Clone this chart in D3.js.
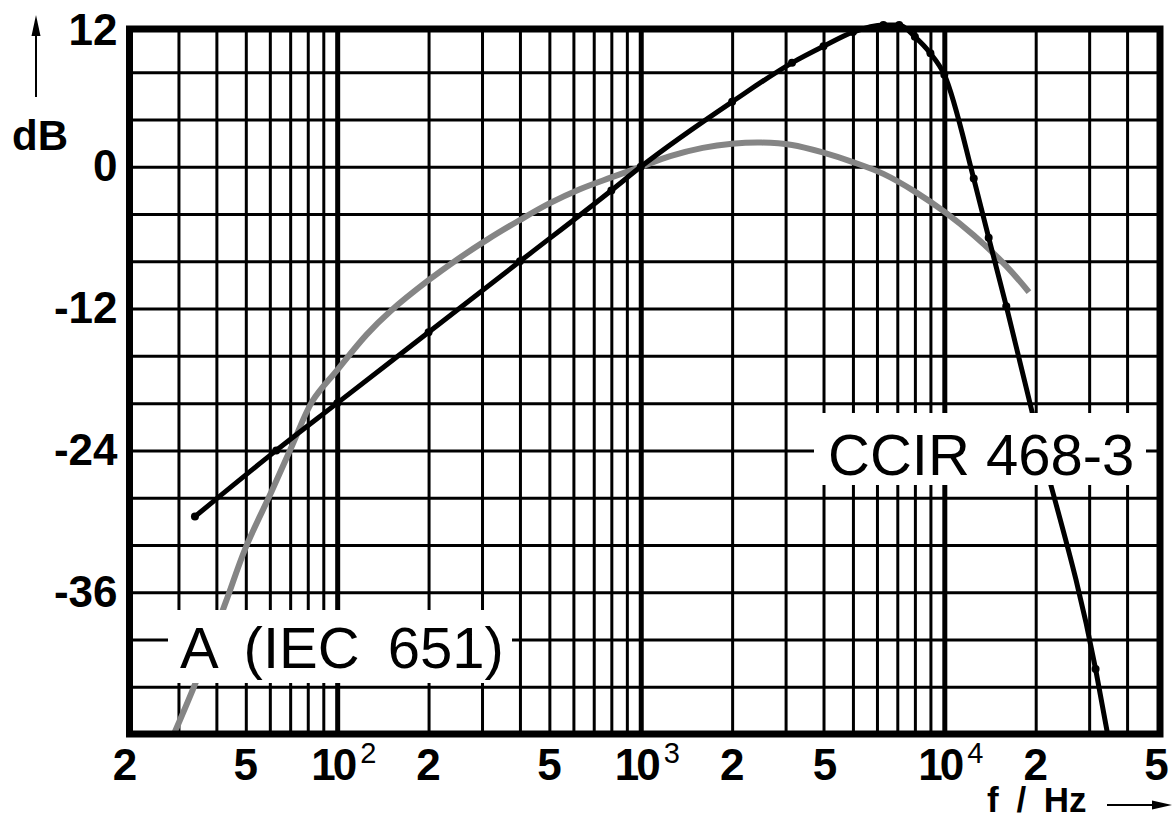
<!DOCTYPE html>
<html>
<head>
<meta charset="utf-8">
<script src="https://cdn.jsdelivr.net/npm/d3@7"></script>
<style>
body { margin: 0; background: #fff; }
svg text { font-family: "Liberation Sans", Arial, sans-serif; fill: #000; }
</style>
</head>
<body>
<script>
var width = 1176;
var height = 820;

// plot area
var plot = {left: 125, right: 1156.5, top: 25, bottom: 734};

// A weighting (IEC 651)
var freqA = [29, 35, 43, 50, 61, 71, 83, 100, 125, 150, 200, 250, 315, 400, 500, 630, 800, 1000,
  1250, 1600, 2000, 2500, 3150, 4000, 5000, 6300, 8000, 10000, 12500, 16000, 19000];
var dbA = [-48, -43.0, -36.8, -32.2, -27.4, -23.6, -19.8, -17.2, -14.2, -12.2, -9.6, -7.8, -6.1, -4.5, -3.1, -1.9, -0.9, 0,
  0.9, 1.6, 1.95, 2.05, 1.85, 1.2, 0.4, -0.6, -2.1, -3.8, -5.8, -8.4, -10.6];

// CCIR 468-3
var freqC = [34, 63, 100, 200, 400, 800, 1000, 2000, 3150, 4000, 5000, 6300, 7100, 8000, 9000, 10000,
  12500, 14000, 16000, 20000, 31500, 34500];
var dbC = [-29.6, -24.0, -20.0, -14.0, -8.0, -2.0, 0, 5.5, 8.8, 10.2, 11.4, 12.0, 12.0, 11.0, 9.6, 7.8,
  -1.0, -6.0, -11.8, -22.0, -42.5, -48];

var xTickVals = [20, 50, 100, 200, 500, 1000, 2000, 5000, 10000, 20000, 50000];
var xTickText = ["2", "5", "10", "2", "5", "10", "2", "5", "10", "2", "5"];
var xTickSup = ["", "", "2", "", "", "3", "", "", "4", "", ""];
var yTickVals = [12, 0, -12, -24, -36];
var yGridVals = [8, 4, 0, -4, -8, -12, -16, -20, -24, -28, -32, -36, -40, -44];

var svg = d3.select("body")
  .append("svg")
  .attr("width", width)
  .attr("height", height);

var xScale = d3.scaleLog()
  .domain([20, 50000])
  .range([plot.left, plot.right]);

var yScale = d3.scaleLinear()
  .domain([-48, 12])
  .range([plot.bottom, plot.top]);

// vertical grid: every 1..9 x decade
var gridF = [];
[10, 100, 1000, 10000].forEach(function(dec) {
  for (var k = 1; k <= 9; k++) {
    var v = k * dec;
    if (v > 20 && v < 50000) gridF.push(v);
  }
});

var fx = 129.5, fy = 29, fr = 1160, fb = 734;

var vgrid = svg.append("g")
  .attr("transform", "translate(0," + fb + ")")
  .call(d3.axisBottom(xScale).tickValues(gridF).tickSize(-(fb - fy)).tickFormat(""));
vgrid.select(".domain").remove();
vgrid.selectAll(".tick line")
  .attr("stroke", "#000")
  .attr("stroke-width", function(d) { return (d === 100 || d === 1000 || d === 10000) ? 5 : 3; });

var hgrid = svg.append("g")
  .attr("transform", "translate(" + fx + ",0)")
  .call(d3.axisLeft(yScale).tickValues(yGridVals).tickSize(-(fr - fx)).tickFormat(""));
hgrid.select(".domain").remove();
hgrid.selectAll(".tick line").attr("stroke", "#000").attr("stroke-width", 3);

// curves
var lineA = d3.line()
  .x(function(d) { return xScale(d[0]); })
  .y(function(d) { return yScale(d[1]); })
  .curve(d3.curveCatmullRom.alpha(0.5));

var lineC = d3.line()
  .x(function(d) { return xScale(d[0]); })
  .y(function(d) { return yScale(d[1]); })
  .curve(d3.curveMonotoneX);

svg.append("path")
  .datum(freqA.map(function(f, i) { return [f, dbA[i]]; }))
  .attr("d", lineA)
  .attr("fill", "none")
  .attr("stroke", "#858585")
  .attr("stroke-width", 6);

var ccir = freqC.map(function(f, i) { return [f, dbC[i]]; });
svg.append("path")
  .datum(ccir)
  .attr("d", lineC)
  .attr("fill", "none")
  .attr("stroke", "#000")
  .attr("stroke-width", 5);

svg.selectAll("circle.pt")
  .data(ccir.slice(0, ccir.length - 1))
  .enter()
  .append("circle")
  .attr("class", "pt")
  .attr("cx", function(d) { return xScale(d[0]); })
  .attr("cy", function(d) { return yScale(d[1]); })
  .attr("r", 4)
  .attr("fill", "#000");

// curve labels on white boxes
svg.append("rect").attr("x", 168).attr("y", 610).attr("width", 344).attr("height", 73).attr("fill", "#fff");
svg.append("text")
  .attr("x", 180).attr("y", 668)
  .attr("font-size", 58)
  .attr("word-spacing", 12)
  .text("A (IEC 651)");

svg.append("rect").attr("x", 814).attr("y", 413).attr("width", 332).attr("height", 72).attr("fill", "#fff");
svg.append("text")
  .attr("x", 828).attr("y", 475)
  .attr("font-size", 58)
  .text("CCIR 468-3");

// frame
svg.append("rect")
  .attr("x", fx).attr("y", fy)
  .attr("width", fr - fx).attr("height", fb - fy)
  .attr("fill", "none")
  .attr("stroke", "#000")
  .attr("stroke-width", 7);

// y labels
var yAxis = svg.append("g")
  .attr("transform", "translate(" + (fx - 4) + ",0)")
  .call(d3.axisLeft(yScale).tickValues(yTickVals).tickSize(0).tickPadding(8)
    .tickFormat(function(d) { return String(d); }));
yAxis.select(".domain").remove();
yAxis.selectAll("text")
  .attr("font-size", 44)
  .attr("font-weight", "bold")
  .attr("font-family", "Liberation Sans, Arial, sans-serif")
  .attr("dy", function(d) { return d === 12 ? "0.45em" : "0.32em"; });

// x labels
var xl = svg.append("g");
xTickVals.forEach(function(v, i) {
  var px = xScale(v);
  var t = xl.append("text")
    .attr("y", 780)
    .attr("font-size", 44)
    .attr("font-weight", "bold");
  if (xTickSup[i]) {
    t.attr("x", px - 26).attr("text-anchor", "start");
    t.append("tspan").attr("letter-spacing", -3).text(xTickText[i]);
    t.append("tspan")
      .attr("dx", 6)
      .attr("dy", -17)
      .attr("font-size", 29)
      .attr("font-weight", "normal")
      .text(xTickSup[i]);
  } else {
    t.attr("x", v === 5000 ? px - 28 : px).attr("text-anchor", "middle").text(xTickText[i]);
  }
});

// axis titles with arrows
svg.append("text")
  .attr("x", 12).attr("y", 150)
  .attr("font-size", 42)
  .attr("font-weight", "bold")
  .text("dB");
svg.append("line")
  .attr("x1", 36).attr("y1", 97).attr("x2", 36).attr("y2", 30)
  .attr("stroke", "#000").attr("stroke-width", 2);
svg.append("path")
  .attr("d", "M36,15 L40.5,36 L31.5,36 Z")
  .attr("fill", "#000");

svg.append("text")
  .attr("x", 987).attr("y", 812)
  .attr("font-size", 35)
  .attr("font-weight", "bold")
  .attr("word-spacing", 8)
  .text("f / Hz");
svg.append("line")
  .attr("x1", 1107).attr("y1", 805).attr("x2", 1158).attr("y2", 805)
  .attr("stroke", "#000").attr("stroke-width", 2);
svg.append("path")
  .attr("d", "M1172,805 L1152,800.5 L1152,809.5 Z")
  .attr("fill", "#000");
</script>
</body>
</html>
